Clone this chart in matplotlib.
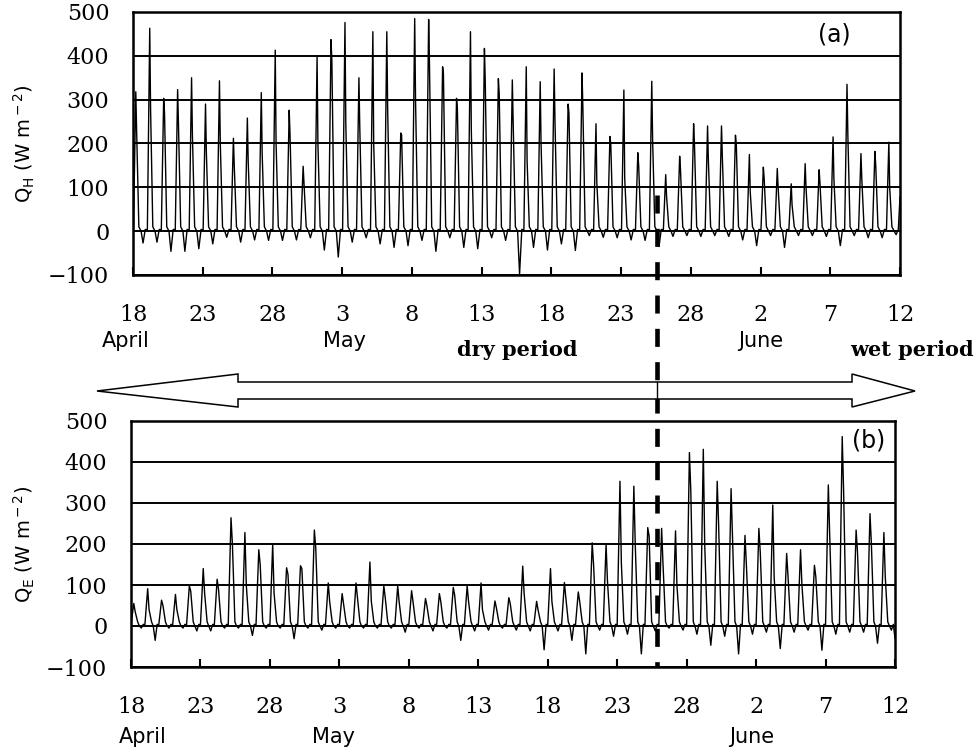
import numpy as np
import matplotlib.pyplot as plt
from matplotlib.lines import Line2D
from matplotlib.patches import Polygon

W, H = 980, 750

# x axis: day 0 = 18 April, day 55 = 12 June
tick_days = list(range(0, 56, 5))
tick_labels = ['18', '23', '28', '3', '8', '13', '18', '23', '28', '2', '7', '12']
y_ticks = [-100, 0, 100, 200, 300, 400, 500]

# sensible heat flux QH (W m-2): daily peak, value just after the peak, night minimum
qh_peak = [318, 463, 303, 323, 350, 290, 343, 212, 258, 316,
           413, 276, 148, 398, 437, 476, 350, 455, 455, 224,
           485, 483, 375, 303, 455, 417, 348, 345, 375, 341,
           370, 290, 361, 245, 216, 322, 179, 342, 129, 171,
           245, 240, 240, 219, 175, 146, 143, 108, 154, 140,
           215, 335, 177, 182, 203]
qh_after = [230, 280, 270, 244, 220, 180, 200, 150, 160, 180,
            200, 220, 110, 200, 390, 245, 240, 200, 280, 220,
            300, 380, 360, 280, 230, 340, 314, 250, 160, 200,
            250, 270, 280, 110, 200, 120, 150, 210, 80, 140,
            200, 160, 170, 200, 90, 120, 100, 60, 100, 110,
            120, 220, 120, 150, 100]
qh_night = [-27, -25, -46, -46, -40, -29, -14, -25, -20, -21,
            -21, -20, -15, -43, -59, -25, -15, -29, -37, -33,
            -21, -46, -15, -37, -40, -15, -21, -98, -37, -43,
            -29, -44, -10, -14, -15, -20, -21, -35, -12, -10,
            -12, -10, -12, -20, -33, -10, -37, -10, -10, -12,
            -33, -10, -15, -15, -8]
qh_last = 78

# latent heat flux QE (W m-2)
qe_peak = [55, 91, 63, 77, 98, 140, 114, 264, 228, 186,
           199, 142, 147, 234, 105, 79, 105, 156, 98, 98,
           86, 67, 79, 94, 98, 105, 61, 69, 146, 60,
           140, 106, 83, 203, 199, 353, 341, 240, 238, 232,
           423, 431, 353, 335, 221, 238, 295, 177, 186, 148,
           344, 462, 234, 274, 228]
qe_after = [35, 40, 50, 40, 85, 80, 90, 200, 100, 150,
            80, 126, 140, 190, 60, 55, 70, 60, 70, 60,
            60, 50, 60, 75, 60, 40, 45, 55, 80, 40,
            60, 70, 60, 150, 110, 154, 200, 219, 150, 100,
            330, 200, 250, 220, 150, 180, 120, 120, 100, 120,
            220, 330, 180, 200, 120]
qe_night = [-5, -35, -5, -5, -12, -12, -5, -5, -23, -5,
            -5, -31, -5, -10, -5, -5, -5, -5, -5, -15,
            -5, -12, -5, -35, -12, -10, -5, -10, -12, -58,
            -12, -35, -68, -10, -25, -20, -68, -12, -5, -10,
            -20, -47, -25, -68, -20, -15, -55, -15, -10, -59,
            -20, -15, -15, -42, -10]
qe_last = -30


def series(peak, after, night, last, frac):
    x, y = [], []
    for d in range(len(peak)):
        vals = [3, peak[d], after[d], 10, 0, night[d], 4]
        for f, v in zip(frac, vals):
            x.append(d + f)
            y.append(v)
    x.append(55)
    y.append(last)
    return np.array(x), np.array(y)


qh_x, qh_y = series(qh_peak, qh_after, qh_night, qh_last,
                    [0.03, 0.2, 0.26, 0.42, 0.58, 0.72, 0.88])
qe_x, qe_y = series(qe_peak, qe_after, qe_night, qe_last,
                    [0.0, 0.2, 0.3, 0.48, 0.6, 0.74, 0.88])

plt.rcParams['lines.scale_dashes'] = False
plt.rcParams['mathtext.default'] = 'regular'

fig = plt.figure(figsize=(W / 100, H / 100), dpi=100)


def px_axes(l, t, r, b):
    return fig.add_axes([l / W, 1 - b / H, (r - l) / W, (b - t) / H])


ax1 = px_axes(133, 12, 900, 275)
ax2 = px_axes(131, 421, 895, 667)

for ax, x, y, lab in [(ax1, qh_x, qh_y, r'Q$_{\rm H}$ (W m$^{\rm -2}$)'),
                      (ax2, qe_x, qe_y, r'Q$_{\rm E}$ (W m$^{\rm -2}$)')]:
    ax.plot(x, y, color='black', lw=1.0, zorder=3)
    ax.set_xlim(0, 55)
    ax.set_ylim(-100, 500)
    ax.set_yticks(y_ticks)
    ax.set_xticks(tick_days)
    ax.set_xticklabels(tick_labels)
    ax.yaxis.grid(True, color='black', lw=1.4)
    ax.set_axisbelow(True)
    ax.tick_params(axis='y', length=0, pad=17, labelsize=16)
    ax.tick_params(axis='x', direction='in', length=6, width=1.5, pad=21, labelsize=16)
    for lbl in ax.get_xticklabels() + ax.get_yticklabels():
        lbl.set_family('DejaVu Serif')
    for s in ax.spines.values():
        s.set_linewidth(1.8)
    ax.set_ylabel(lab, fontsize=14, family='DejaVu Sans')

ax1.yaxis.set_label_coords((37 - 133) / 767, 0.5)
ax2.yaxis.set_label_coords((37 - 131) / 764, 0.5)

ax1.text(0.915, 0.915, '(a)', transform=ax1.transAxes, ha='center', va='center',
         fontsize=17, family='DejaVu Sans')
ax2.text(0.965, 0.92, '(b)', transform=ax2.transAxes, ha='center', va='center',
         fontsize=17, family='DejaVu Sans')


def ftext(x, y, s, **kw):
    fig.text(x / W, 1 - y / H, s, ha='center', va='center', **kw)


for xm, s in [(126, 'April'), (344, 'May'), (761, 'June')]:
    ftext(xm, 341, s, fontsize=15, family='DejaVu Sans')
for xm, s in [(143, 'April'), (333, 'May'), (752, 'June')]:
    ftext(xm, 737, s, fontsize=15, family='DejaVu Sans')
ftext(517, 350, 'dry period', fontsize=15, family='DejaVu Serif', weight='bold')
ftext(912, 350, 'wet period', fontsize=15, family='DejaVu Serif', weight='bold')

# boundary between dry and wet period
fig.add_artist(Line2D([657 / W, 657 / W], [1 - 195 / H, 1 - 667 / H],
                      color='black', lw=3.3, linestyle=(0, (13, 11)), zorder=5))

# double arrow
arrow_px = [(97, 391), (238, 374), (238, 382), (852, 382), (852, 374), (915, 391),
            (852, 407), (852, 399), (238, 399), (238, 407)]
fig.add_artist(Polygon([(px / W, 1 - py / H) for px, py in arrow_px], closed=True,
                       facecolor='white', edgecolor='black', lw=1.1, zorder=6))
fig.add_artist(Line2D([657 / W, 657 / W], [1 - 382 / H, 1 - 399 / H],
                      color='black', lw=1.0, zorder=7))

fig.savefig('out.png', dpi=100)
